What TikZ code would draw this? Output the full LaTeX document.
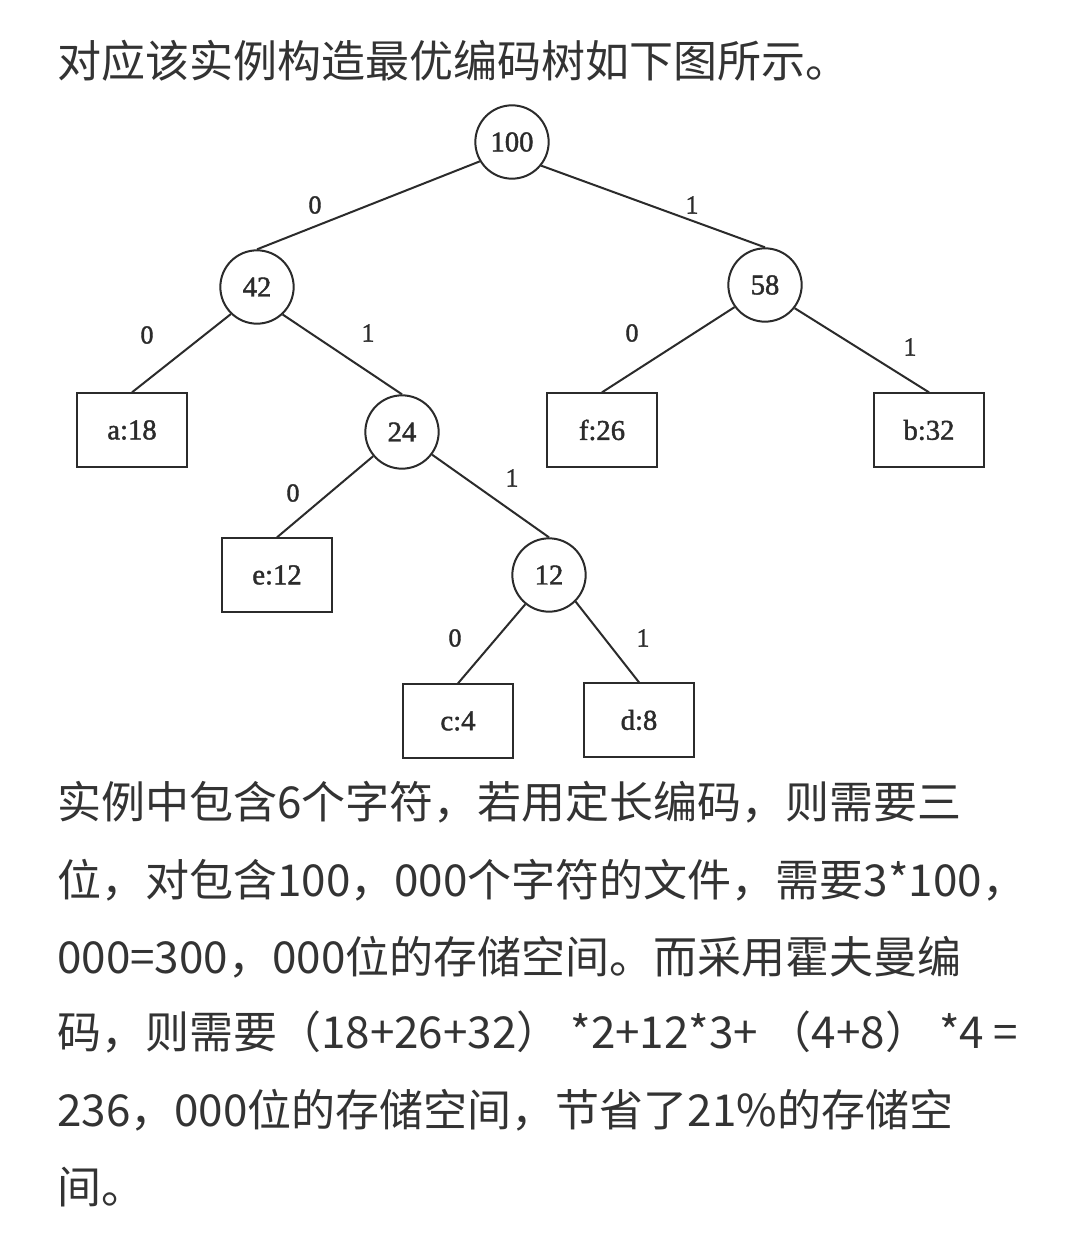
\documentclass[tikz,border=0pt]{standalone}
\usepackage{fontspec}
\setmainfont{Liberation Serif}
\newfontfamily\cjk{Noto Sans CJK SC}
\newfontfamily\treefont{Liberation Serif}[FakeBold=1.5]
\definecolor{treeline}{HTML}{2B2B2B}
\definecolor{textgray}{HTML}{333333}
\begin{document}
\begin{tikzpicture}[x=0.75pt,y=-0.75pt,
  inode/.style={circle,draw=treeline,line width=1.5pt,minimum size=55pt,inner sep=0pt,font=\treefont\fontsize{21.5}{24}\selectfont,text=treeline},
  leaf/.style={rectangle,draw=treeline,line width=1.5pt,minimum width=82pt,minimum height=55pt,inner sep=0pt,font=\treefont\fontsize{21.5}{24}\selectfont,text=treeline},
  treeedge/.style={draw=treeline,line width=1.5pt},
  bit/.style={font=\treefont\fontsize{19.5}{22}\selectfont,inner sep=0pt,text=treeline},
  txt/.style={anchor=base west,inner sep=0pt,font=\cjk\fontsize{33}{40}\selectfont,text=textgray}]
\fill[white] (0,0) rectangle (1069,1234);
\useasboundingbox (0,0) rectangle (1069,1234);

% text
\node[txt] (t0) at (57,78) {对应该实例构造最优编码树如下图所示。};
\node[txt] (t1) at (57,818) {实例中包含6个字符，若用定长编码，则需要三};
\node[txt] (t2) at (57,896) {位，对包含100，000个字符的文件，需要3*100，};
\node[txt] (t3) at (57,973) {000=300，000位的存储空间。而采用霍夫曼编};
\node[txt] (t4) at (57,1048) {码，则需要（18+26+32） *2+12*3+ （4+8） *4 =};
\node[txt] (t5) at (57,1126) {236，000位的存储空间，节省了21\%的存储空};
\node[txt] (t6) at (57,1203) {间。};

% tree nodes
\node[inode] (n100) at (512,142) {100};
\node[inode] (n42) at (257,287) {42};
\node[inode] (n58) at (765,285) {58};
\node[inode] (n24) at (402,432) {24};
\node[inode] (n12) at (549,575) {12};
\node[leaf] (a) at (132,430) {a:18};
\node[leaf] (f) at (602,430) {f:26};
\node[leaf] (b) at (929,430) {b:32};
\node[leaf] (e) at (277,575) {e:12};
\node[leaf] (c) at (458,721) {c:4};
\node[leaf] (d) at (639,720) {d:8};

% edges
\draw[treeedge] (n100.211) -- (n42.north);
\draw[treeedge] (n100.-39) -- (n58.north);
\draw[treeedge] (n42.226) -- (a.north);
\draw[treeedge] (n42.-47) -- (n24.north);
\draw[treeedge] (n58.216) -- (f.north);
\draw[treeedge] (n58.-38) -- (b.north);
\draw[treeedge] (n24.220) -- (e.north);
\draw[treeedge] (n24.-37) -- (n12.north);
\draw[treeedge] (n12.231) -- (c.north);
\draw[treeedge] (n12.-45) -- (d.north);

% bit labels
\node[bit] (l1) at (315,205) {0};
\node[bit] (l2) at (692,205) {1};
\node[bit] (l3) at (147,335) {0};
\node[bit] (l4) at (368,333) {1};
\node[bit] (l5) at (632,333) {0};
\node[bit] (l6) at (910,347) {1};
\node[bit] (l7) at (293,493) {0};
\node[bit] (l8) at (512,478) {1};
\node[bit] (l9) at (455,638) {0};
\node[bit] (l10) at (643,638) {1};
\end{tikzpicture}
\end{document}
